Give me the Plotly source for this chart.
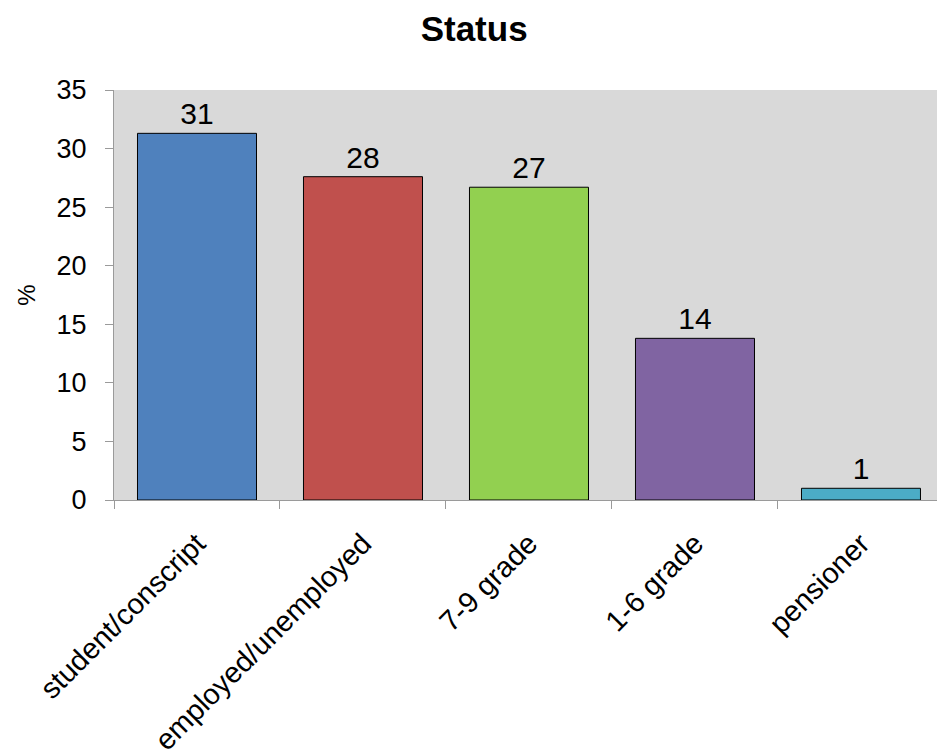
import plotly.graph_objects as go

# Share of respondents by status, in percent
categories = ["student/conscript", "employed/unemployed", "7-9 grade", "1-6 grade", "pensioner"]
values = [31.3, 27.6, 26.7, 13.8, 1.0]
colors = ["#4f81bd", "#c0504d", "#92d050", "#8064a2", "#4bacc6"]
y_ticks = [0, 5, 10, 15, 20, 25, 30, 35]

FONT = "Liberation Sans, Arial, sans-serif"

fig = go.Figure(
    go.Bar(
        x=categories,
        y=values,
        width=0.717,
        marker=dict(color=colors, line=dict(color="#000000", width=1)),
        texttemplate="%{y:.0f}",
        textposition="outside",
        textfont=dict(family=FONT, size=30, color="#000000"),
        cliponaxis=False,
    )
)

fig.update_layout(
    width=937,
    height=751,
    margin=dict(l=114, r=0, t=90, b=251),
    paper_bgcolor="#ffffff",
    plot_bgcolor="#d9d9d9",
    showlegend=False,
    title=dict(
        text="<b>Status</b>",
        font=dict(family=FONT, size=35, color="#000000"),
        xref="container",
        x=0.506,
        xanchor="center",
        yref="container",
        y=0.962,
        yanchor="middle",
    ),
    xaxis=dict(
        range=[-0.5, 4.458],
        tickangle=-45,
        tickson="boundaries",
        ticks="outside",
        ticklen=8,
        tickcolor="#9a9a9a",
        ticklabelstandoff=14,
        showline=True,
        linecolor="#9a9a9a",
        linewidth=1,
        showgrid=False,
        automargin=False,
        tickfont=dict(family=FONT, size=29, color="#000000"),
    ),
    yaxis=dict(
        range=[0, 35],
        tickvals=y_ticks,
        ticks="outside",
        ticklen=8,
        tickcolor="#9a9a9a",
        ticklabelstandoff=13,
        showline=True,
        linecolor="#9a9a9a",
        linewidth=1,
        showgrid=False,
        zeroline=False,
        automargin=False,
        tickfont=dict(family=FONT, size=27, color="#000000"),
        title=dict(text="%", font=dict(family=FONT, size=24, color="#000000"), standoff=14),
    ),
)

fig.write_html("out.html")
